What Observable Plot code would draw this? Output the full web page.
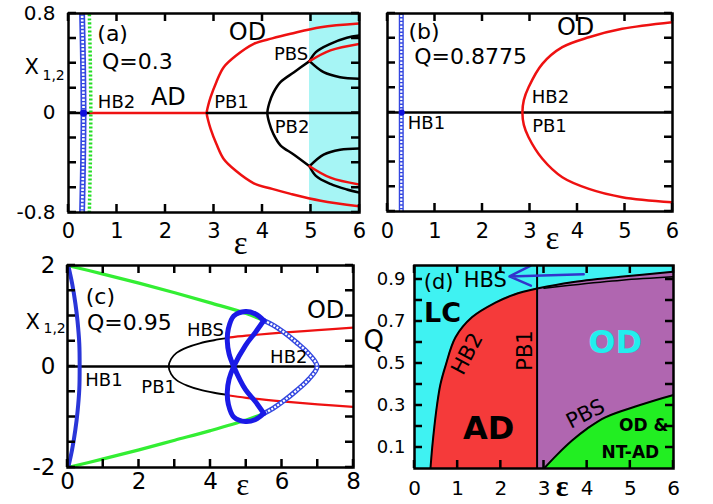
<!DOCTYPE html>
<html><head><meta charset="utf-8">
<script src="https://cdn.jsdelivr.net/npm/d3@7"></script>
<script src="https://cdn.jsdelivr.net/npm/@observablehq/plot@0.6"></script>
<style>
body{margin:0;background:#fff}
#wrap{position:relative;width:713px;height:504px;overflow:hidden;background:#fff}
</style>
</head><body><div id="wrap"></div>
<script>
// ===================== DATA =====================
// ---- Panel (a): Q = 0.3  [epsilon, X] ----
const aHB1 = [[0.28,-0.8],[0.3,-0.4],[0.31,0],[0.3,0.4],[0.28,0.8]];
const aHB2 = [[0.43,-0.8],[0.45,-0.4],[0.46,0],[0.45,0.4],[0.43,0.8]];
const aZeroBlack1 = [[0,0],[0.46,0]];
const aZeroRed = [[0.46,0],[2.85,0]];
const aZeroBlack2 = [[2.85,0],[6,0]];
const aOD = [[6,0.72],[5.2,0.69],[4.58,0.637],[4.2,0.6],[3.82,0.556],[3.45,0.46],[3.2,0.368],[3.05,0.25],[2.93,0.127],[2.88,0.06],[2.85,0],
             [2.88,-0.06],[2.93,-0.127],[3.05,-0.25],[3.2,-0.37],[3.45,-0.465],[3.82,-0.565],[4.2,-0.61],[4.58,-0.65],[5.2,-0.705],[6,-0.75]];
const aPB2 = [[4.97,0.417],[4.65,0.328],[4.37,0.248],[4.22,0.16],[4.14,0.08],[4.1,0],[4.14,-0.08],[4.22,-0.165],[4.37,-0.26],[4.65,-0.335],[4.97,-0.428]];
const aUpOuterBlack = [[4.97,0.417],[5.1,0.49],[5.4,0.556],[5.74,0.605],[6,0.623]];
const aUpInnerBlack = [[4.97,0.417],[5.26,0.328],[5.6,0.288],[6,0.275]];
const aUpRed = [[4.97,0.417],[5.4,0.503],[6,0.556]];
const aLoInnerBlack = [[4.97,-0.428],[5.26,-0.335],[5.6,-0.295],[6,-0.285]];
const aLoRed = [[4.97,-0.428],[5.4,-0.52],[6,-0.575]];
const aLoOuterBlack = [[4.97,-0.428],[5.1,-0.505],[5.4,-0.57],[5.74,-0.615],[6,-0.64]];
const aCyan = [[4.97,6]];
const aDots = [[0.31,0]];
const aLabelsBig = [["OD",3.69,0.65],["AD",2.06,0.127]];
const aLabelsMid = [["(a)",0.91,0.637],["Q=0.3",1.42,0.41]];
const aLabelsSmall = [["PBS",4.59,0.476],["HB2",0.99,0.087],["PB1",3.36,0.087],["PB2",4.61,-0.114]];
const aXTicks = [0,1,2,3,4,5,6];
const aYTicks = [-0.8,-0.6,-0.4,-0.2,0,0.2,0.4,0.6,0.8];
const aYLabels = [-0.8,0,0.8];

// ---- Panel (b): Q = 0.8775 ----
const bHB1 = [[0.29,-0.8],[0.29,0.8]];
const bZero = [[0,0],[6,0]];
const bOD = [[6,0.73],[4.94,0.676],[4.24,0.608],[3.68,0.528],[3.26,0.393],[2.97,0.204],[2.87,0.1],[2.84,0],
             [2.87,-0.1],[2.97,-0.2],[3.26,-0.374],[3.68,-0.523],[4.24,-0.617],[4.94,-0.684],[6,-0.725]];
const bDots = [[0.3,0]];
const bLabelsBig = [["OD",3.96,0.69]];
const bLabelsMid = [["(b)",0.77,0.65],["Q=0.8775",1.75,0.447]];
const bLabelsSmall = [["HB2",3.43,0.124],["PB1",3.41,-0.113],["HB1",0.82,-0.086]];

// ---- Panel (c): Q = 0.95 ----
const cHB1 = [[0.02,2],[0.13,1.64],[0.22,1.25],[0.28,0.9],[0.33,0.45],[0.34,0],[0.33,-0.45],[0.28,-0.9],[0.22,-1.25],[0.13,-1.64],[0.02,-2]];
const cGreenUp = [[0,2],[1,1.83],[2,1.65],[3,1.46],[4,1.26],[5,1.05],[5.49,0.91]];
const cGreenLo = [[0,-2],[1,-1.83],[2,-1.65],[3,-1.46],[4,-1.27],[5,-1.06],[5.49,-0.93]];
const cZero = [[0,0],[8,0]];
const cPB1 = [[4.47,0.56],[4.1,0.52],[3.7,0.46],[3.35,0.38],[3.05,0.27],[2.9,0.15],[2.83,0],[2.9,-0.15],[3.05,-0.27],[3.35,-0.38],[3.7,-0.46],[4.1,-0.52],[4.47,-0.56]];
const cRedUp = [[4.47,0.57],[5,0.61],[6,0.67],[7,0.72],[8,0.77]];
const cRedLo = [[4.47,-0.57],[5,-0.62],[6,-0.69],[7,-0.75],[8,-0.8]];
const cLobeA = [[5.49,0.91],[5.26,1.04],[4.98,1.09],[4.65,1.0],[4.5,0.75],[4.47,0.5],[4.52,0.25],[4.65,0],[4.98,-0.46],[5.26,-0.7],[5.49,-0.93]];
const cLobeB = [[5.49,-0.93],[5.26,-1.05],[4.98,-1.09],[4.65,-1.0],[4.5,-0.75],[4.47,-0.5],[4.52,-0.25],[4.65,0],[4.98,0.42],[5.26,0.68],[5.49,0.91]];
const cHB2 = [[5.49,0.91],[5.75,0.82],[6.05,0.68],[6.4,0.48],[6.75,0.25],[6.98,0],[6.75,-0.25],[6.4,-0.48],[6.05,-0.68],[5.75,-0.83],[5.49,-0.93]];
const cLabelsBig = [["OD",7.22,1.11]];
const cLabelsMid = [["(c)",0.92,1.37],["Q=0.95",1.73,0.87]];
const cLabelsSmall = [["HBS",3.86,0.71],["HB2",6.19,0.18],["HB1",1.02,-0.28],["PB1",2.55,-0.41]];
const cXTicks = [0,1,2,3,4,5,6,7,8];
const cXLabels = [0,2,4,6,8];
const cYTicks = [-2,-1.5,-1,-0.5,0,0.5,1,1.5,2];
const cYLabels = [-2,0,2];

// ---- Panel (d): phase diagram (epsilon, Q) ----
const dHB2 = [[0.37,0],[0.41,0.1],[0.46,0.2],[0.52,0.3],[0.6,0.4],[0.72,0.49],[0.95,0.625],[1.33,0.72],[1.875,0.79],[2.3,0.828],[2.84,0.857]];
const dTopUpper = [[2.84,0.857],[3.61,0.886],[4.77,0.913],[6,0.937]];
const dTopLower = [[3.0,0.859],[3.6,0.873],[4.8,0.897],[6,0.913]];
const dPB1 = [[2.84,0],[2.84,0.967]];
const dPBS = [[3.0,0],[3.3,0.065],[3.65,0.133],[4.0,0.19],[4.42,0.244],[5.19,0.3],[5.96,0.348],[6,0.35]];
const dArrow = [[3.92,0.925,2.2,0.915]];
const dLabelsPlain = [["(d)",0.56,0.886],["HBS",1.64,0.895]];
const dXTicks = [0,1,2,3,4,5,6];
const dYTicks = [0.1,0.2,0.3,0.4,0.5,0.6,0.7,0.8,0.9];
const dYLabels = [0.1,0.3,0.5,0.7,0.9];

// ===================== DRAWING =====================
const FONT = "DejaVu Sans";
const RED = "#ee1111", GREEN = "#22dd22";
const TICK = 8;
const wrap = document.getElementById("wrap");

// inward mirror ticks, positioned through the plot's own x / y scales
function addTicks(svg, xt, yt){
  const sx = svg.scale("x"), sy = svg.scale("y");
  const [xl, xr] = sx.range, [yb, ytop] = sy.range;
  let d = "";
  for (const t of xt) { const x = sx.apply(t); d += `M${x},${yb}v${-TICK}M${x},${ytop}v${TICK}`; }
  for (const t of yt) { const y = sy.apply(t); d += `M${xl},${y}h${TICK}M${xr},${y}h${-TICK}`; }
  const p = document.createElementNS("http://www.w3.org/2000/svg", "path");
  p.setAttribute("d", d); p.setAttribute("stroke", "#000"); p.setAttribute("stroke-width", "2.5"); p.setAttribute("fill", "none");
  svg.appendChild(p);
}
function place(svg, left, top, xt, yt){
  svg.style.position = "absolute"; svg.style.overflow = "visible";
  svg.style.left = left + "px"; svg.style.top = top + "px";
  wrap.appendChild(svg);
  addTicks(svg, xt, yt);
}

const L = (data, o) => Plot.line(data, {x: d => d[0], y: d => d[1], curve: "catmull-rom", clip: true, strokeLinejoin: "round", ...o});
const tube = (data, w, o = {}) => [
  L(data, {stroke: "#3347e0", strokeWidth: w, ...o}),
  L(data, {stroke: "white", strokeWidth: w * 0.45, strokeDasharray: "2.2,1.4", strokeLinecap: "butt", ...o})
];
const T = (data, size, o = {}) => Plot.text(data, {x: d => d[1], y: d => d[2], text: d => d[0], fontSize: size, fill: "black", textAnchor: "middle", lineAnchor: "middle", ...o});

function axes(o){
  const m = [Plot.axisX({ticks: o.xl, anchor: "bottom", tickSize: 0, tickPadding: o.xp, fontSize: o.xfs, label: null, tickFormat: d => String(d)})];
  if (o.yl) m.push(Plot.axisY({ticks: o.yl, anchor: "left", tickSize: 0, tickPadding: o.yp, fontSize: o.yfs, label: null, tickFormat: d => String(d)}));
  return m;
}
const frame = () => Plot.frame({stroke: "black", strokeWidth: 2.5});
const epsLabel = (e, dy, bold, size) => Plot.text([e], {x: d => d, frameAnchor: "bottom", dy, text: () => "ε", fontSize: size, fontFamily: "Liberation Serif", fontWeight: bold ? "bold" : "normal", lineAnchor: "middle"});
const xLabel = (y1, y2, dx1, dx2, s1, s2) => [
  Plot.text([y1], {y: d => d, frameAnchor: "left", dx: dx1, text: () => "X", fontSize: s1, lineAnchor: "middle"}),
  Plot.text([y2], {y: d => d, frameAnchor: "left", dx: dx2, text: () => "1,2", fontSize: s2, lineAnchor: "middle"})
];

// ---- (a) ----
const pa = Plot.plot({
  width: 362, height: 252, marginLeft: 68, marginRight: 3, marginTop: 13, marginBottom: 40,
  x: {domain: [0, 6]}, y: {domain: [-0.8, 0.8]},
  style: {fontFamily: FONT, background: "transparent", overflow: "visible"},
  marks: [
    Plot.rect(aCyan, {x1: d => d[0], x2: d => d[1], fill: "#a6f5f5"}),
    L(aOD, {stroke: RED, strokeWidth: 2.5}),
    L(aPB2, {stroke: "black", strokeWidth: 2.5}),
    L(aUpOuterBlack, {stroke: "black", strokeWidth: 2.5}),
    L(aUpInnerBlack, {stroke: "black", strokeWidth: 2.5}),
    L(aUpRed, {stroke: RED, strokeWidth: 2.5}),
    L(aLoInnerBlack, {stroke: "black", strokeWidth: 2.5}),
    L(aLoOuterBlack, {stroke: "black", strokeWidth: 2.5}),
    L(aLoRed, {stroke: RED, strokeWidth: 2.5}),
    L(aZeroBlack1, {stroke: "black", strokeWidth: 2.5, curve: "linear"}),
    L(aZeroRed, {stroke: RED, strokeWidth: 2.5, curve: "linear"}),
    L(aZeroBlack2, {stroke: "black", strokeWidth: 2.5, curve: "linear"}),
    ...tube(aHB1, 6),
    L(aHB2, {stroke: GREEN, strokeWidth: 3.5, strokeDasharray: "2,2", strokeLinecap: "butt"}),
    Plot.dot(aDots, {x: d => d[0], y: d => d[1], r: 3.5, fill: "#1010dd"}),
    T(aLabelsBig, 24), T(aLabelsMid, 22), T(aLabelsSmall, 18),
    ...xLabel(0.366, 0.3, -44, -26, 21, 14),
    epsLabel(3.55, 31, false, 33),
    frame(),
    ...axes({xl: aXTicks, yl: aYLabels, xp: 11, yp: 13, xfs: 21, yfs: 20})
  ]
});
place(pa, 0, 0, aXTicks, aYTicks);

// ---- (b) ----
const pb = Plot.plot({
  width: 351, height: 252, marginLeft: 25, marginRight: 41, marginTop: 13, marginBottom: 41,
  x: {domain: [0, 6]}, y: {domain: [-0.8, 0.8], axis: null},
  style: {fontFamily: FONT, background: "transparent", overflow: "visible"},
  marks: [
    L(bZero, {stroke: "black", strokeWidth: 2.5, curve: "linear"}),
    L(bOD, {stroke: RED, strokeWidth: 2.5}),
    ...tube(bHB1, 5, {curve: "linear"}),
    Plot.dot(bDots, {x: d => d[0], y: d => d[1], r: 3, fill: "#1010dd"}),
    T(bLabelsBig, 24), T(bLabelsMid, 22), T(bLabelsSmall, 18),
    epsLabel(3.47, 27, false, 33),
    frame(),
    ...axes({xl: aXTicks, xp: 12, xfs: 21})
  ]
});
place(pb, 362, 0, aXTicks, aYTicks);

// ---- (c) ----
const pc = Plot.plot({
  width: 362, height: 252, marginLeft: 67, marginRight: 9, marginTop: 13, marginBottom: 37,
  x: {domain: [0, 8]}, y: {domain: [-2, 2]},
  style: {fontFamily: FONT, background: "transparent", overflow: "visible"},
  marks: [
    L(cZero, {stroke: "black", strokeWidth: 2.5, curve: "linear"}),
    L(cPB1, {stroke: "black", strokeWidth: 1.8}),
    L(cRedUp, {stroke: RED, strokeWidth: 2.2}),
    L(cRedLo, {stroke: RED, strokeWidth: 2.2}),
    L(cGreenUp, {stroke: "#33ee33", strokeWidth: 3.2}),
    L(cGreenLo, {stroke: "#33ee33", strokeWidth: 3.2}),
    ...tube(cHB2, 5),
    L(cLobeA, {stroke: "#1a1ae6", strokeWidth: 5}),
    L(cLobeB, {stroke: "#1a1ae6", strokeWidth: 5}),
    L(cHB1, {stroke: "#2a36d8", strokeWidth: 4}),
    T(cLabelsBig, 24), T(cLabelsMid, 22), T(cLabelsSmall, 18),
    ...xLabel(0.88, 0.76, -42, -24, 21, 14),
    epsLabel(4.9, 18, false, 31),
    frame(),
    ...axes({xl: cXLabels, yl: cYLabels, xp: 5, yp: 12, xfs: 23, yfs: 23})
  ]
});
place(pc, 0, 252, cXTicks, cYTicks);

// ---- (d) ----
const pd = Plot.plot({
  width: 351, height: 252, marginLeft: 52, marginRight: 40, marginTop: 13, marginBottom: 36,
  x: {domain: [0, 6]}, y: {domain: [0, 0.967]},
  style: {fontFamily: FONT, background: "transparent", overflow: "visible"},
  marks: [
    Plot.frame({fill: "#3ff2f2"}),
    Plot.areaY(dTopUpper, {x: d => d[0], y1: 0, y2: d => d[1], fill: "#b066b0", curve: "catmull-rom"}),
    Plot.areaY(dPBS, {x: d => d[0], y1: 0, y2: d => d[1], fill: "#22ee22", curve: "catmull-rom"}),
    Plot.areaY(dHB2, {x: d => d[0], y1: 0, y2: d => d[1], fill: "#f53a3a", curve: "catmull-rom"}),
    L(dHB2, {stroke: "black", strokeWidth: 2}),
    L(dTopUpper, {stroke: "black", strokeWidth: 2}),
    L(dTopLower, {stroke: "black", strokeWidth: 1.5}),
    L(dPB1, {stroke: "black", strokeWidth: 2, curve: "linear"}),
    L(dPBS, {stroke: "black", strokeWidth: 2}),
    Plot.arrow(dArrow, {x1: d => d[0], y1: d => d[1], x2: d => d[2], y2: d => d[3], stroke: "#3333cc", strokeWidth: 2.5, headLength: 14, headAngle: 50}),
    T(dLabelsPlain, 21),
    T([["LC",0.65,0.738]], 27, {fontWeight: "bold"}),
    T([["HB2",1.22,0.546]], 21, {rotate: -62}),
    T([["PB1",2.57,0.562]], 21, {rotate: -90}),
    T([["OD",4.65,0.6]], 32, {fontWeight: "bold", fill: "#22eeee"}),
    T([["AD",1.72,0.189]], 32, {fontWeight: "bold"}),
    T([["PBS",3.96,0.26]], 21, {rotate: -27}),
    T([["OD &",5.31,0.205],["NT-AD",5.0,0.078]], 17, {fontWeight: "bold"}),
    Plot.text([0.61], {y: d => d, frameAnchor: "left", dx: -51, text: () => "Q", fontSize: 26, lineAnchor: "middle"}),
    epsLabel(3.42, 18, true, 30),
    frame(),
    ...axes({xl: dXTicks, yl: dYLabels, xp: 12, yp: 9, xfs: 20, yfs: 18})
  ]
});
place(pd, 362, 252, dXTicks, dYTicks);
</script>
</body></html>
